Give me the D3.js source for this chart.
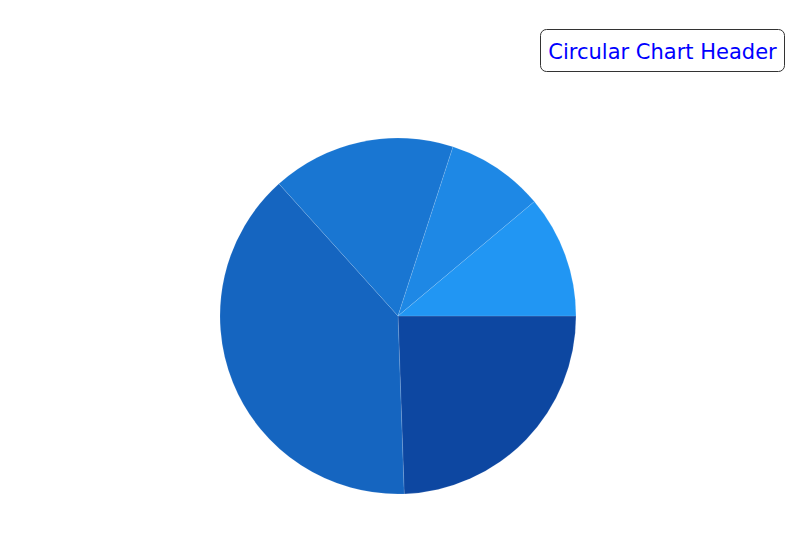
<!DOCTYPE html>
<html>
<head>
<meta charset="utf-8">
<script src="https://cdn.jsdelivr.net/npm/d3@7"></script>
<style>
html,body{margin:0;padding:0;background:#fff;}
svg{display:block;}
</style>
</head>
<body>
<svg id="chart" width="793" height="535"></svg>
<script>
const categories = ["A", "B", "C", "D", "E"];
const values = [22, 35, 15, 8, 10];
const colors = ["#0d47a1", "#1565c0", "#1976d2", "#1e88e5", "#2196f3"];
const headerText = "Circular Chart Header";

const svg = d3.select("#chart");
const cx = 398, cy = 316, r = 178;

const pie = d3.pie().sort(null).value(d => d.v)
  .startAngle(Math.PI / 2).endAngle(Math.PI / 2 + 2 * Math.PI);
const arc = d3.arc().innerRadius(0).outerRadius(r);
const color = d3.scaleOrdinal().domain(categories).range(colors);

const data = categories.map((c, i) => ({c, v: values[i]}));
svg.append("g").attr("transform", `translate(${cx},${cy})`)
  .selectAll("path").data(pie(data)).join("path")
  .attr("d", arc)
  .attr("fill", d => color(d.data.c))
  .attr("stroke", "rgba(255,255,255,0.2)")
  .attr("stroke-width", 0.6);

const hg = svg.append("g");
hg.append("rect").attr("x", 540.5).attr("y", 29.5).attr("width", 244).attr("height", 42)
  .attr("rx", 6).attr("fill", "#fff").attr("stroke", "#333").attr("stroke-width", 1);
hg.append("text").attr("x", 662.5).attr("y", 58.5).attr("text-anchor", "middle")
  .attr("font-family", "DejaVu Sans, Verdana, sans-serif").attr("font-size", 21)
  .attr("fill", "#0000ff").text(headerText);
</script>
</body>
</html>
